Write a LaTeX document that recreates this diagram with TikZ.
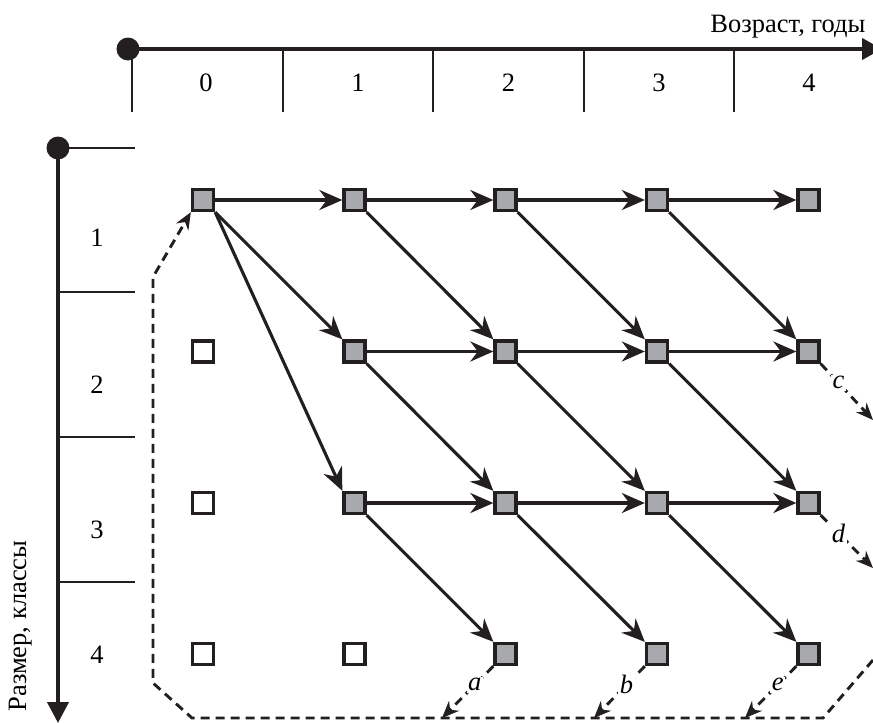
\documentclass[tikz,border=0pt]{standalone}
\usepackage{fontspec}
\setmainfont{Liberation Serif}
\usetikzlibrary{arrows.meta}
\definecolor{ink}{HTML}{231F20}
\definecolor{cellgray}{HTML}{A7A9AC}
\begin{document}
\begin{tikzpicture}[x=1pt,y=-1pt,
  font=\fontsize{26.5}{30}\selectfont,
  axis/.style={draw=ink, line width=4pt},
  tickline/.style={draw=ink, line width=2.6pt},
  cell/.style={draw=ink, fill=cellgray, line width=3.3pt, minimum size=21pt, inner sep=0pt},
  emptycell/.style={cell, fill=white},
  flow/.style={draw=ink, line width=3.1pt, -{Stealth[length=23pt,width=20pt]}},
  hop/.style={draw=ink, line width=2.9pt, dash pattern=on 9pt off 6pt, -{Stealth[length=17pt,width=14pt]}},
  lbl/.style={fill=white, inner sep=1.5pt, font=\fontsize{26.5}{30}\selectfont\itshape}]
\clip (0,0) rectangle (873,723);

% age axis
\fill[ink] (128,49) circle (11.5);
\coordinate (agetip) at (882,49);
\draw[axis, -{Triangle[length=20pt,width=21pt]}] (128,49) -- (agetip);
\node[anchor=base east] (agetitle) at (869,32) {Возраст, годы};
\foreach \x in {132,283,433,584,734} \draw[tickline] (\x,49) -- (\x,112);
\foreach \lab/\x in {0/206,1/358,2/508.5,3/659,4/809}
  \node (age\lab) at (\x,83) {\lab};

% size axis
\fill[ink] (58,148) circle (11.5);
\coordinate (sizetip) at (58,723);
\draw[axis, -{Triangle[length=21pt,width=21pt]}] (58,148) -- (sizetip);
\node[rotate=90, anchor=base west] (sizetitle) at (26,715) {Размер, классы};
\foreach \y in {148,292,437,582} \draw[tickline] (58,\y) -- (135,\y);
\foreach \lab/\y in {1/238,2/385,3/530,4/655}
  \node (size\lab) at (97,\y) {\lab};

% grid of cells
\foreach \i/\x in {0/203,1/354.5,2/505.5,3/657,4/808.5}
  \foreach \j/\y in {1/200,2/351.5,3/503,4/654}
    \coordinate (p\i\j) at (\x,\y);
\foreach \i in {0,...,4} \node[cell] (c\i1) at (p\i1) {};
\foreach \i in {1,...,4} \node[cell] (c\i2) at (p\i2) {};
\foreach \i in {1,...,4} \node[cell] (c\i3) at (p\i3) {};
\foreach \i in {2,...,4} \node[cell] (c\i4) at (p\i4) {};
\node[emptycell] (c02) at (p02) {};
\node[emptycell] (c03) at (p03) {};
\node[emptycell] (c04) at (p04) {};
\node[emptycell] (c14) at (p14) {};

% growth within a size class
\foreach \a/\b in {0/1,1/2,2/3,3/4} \draw[flow] (c\a1) -- (c\b1);
\foreach \a/\b in {1/2,2/3,3/4} {
  \draw[flow] (c\a2) -- (c\b2);
  \draw[flow] (c\a3) -- (c\b3);
}
% moving to a larger size class
\draw[flow] (c01.south east) -- (c12.north west);
\draw[flow] (c01.south east) -- (c13.north west);
\foreach \a/\b in {1/2,2/3,3/4} {
  \draw[flow] (c\a1.south east) -- (c\b2.north west);
  \draw[flow] (c\a2.south east) -- (c\b3.north west);
  \draw[flow] (c\a3.south east) -- (c\b4.north west);
}

% reproduction loop
\coordinate (l1) at (873,660);
\coordinate (l2) at (823,718);
\coordinate (l3) at (192,718);
\coordinate (l4) at (153,683);
\coordinate (l5) at (153,277);
\draw[hop] (l1) -- (l2) -- (l3) -- (l4) -- (l5) -- (c01.south west);

\coordinate (ta) at (442,718);
\coordinate (tb) at (594,718);
\coordinate (te) at (745,718);
\coordinate (tc) at (873,420);
\coordinate (td) at (873,568);
\draw[hop] (c24.south west) -- node[lbl, pos=0.36] {a} (ta);
\draw[hop] (c34.south west) -- node[lbl, pos=0.36] {b} (tb);
\draw[hop] (c44.south west) -- node[lbl, pos=0.36] {e} (te);
\draw[hop] (c42.south east) -- node[lbl, pos=0.34] {c} (tc);
\draw[hop] (c43.south east) -- node[lbl, pos=0.34] {d} (td);
\end{tikzpicture}
\end{document}
